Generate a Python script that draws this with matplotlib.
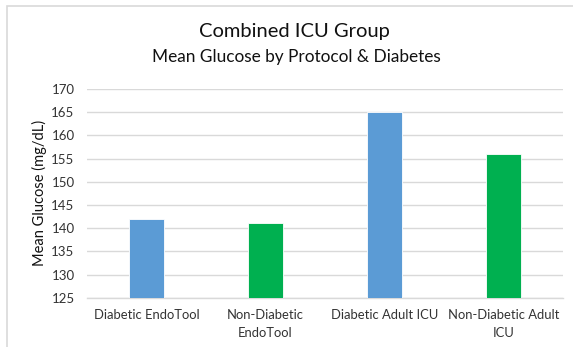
import matplotlib
matplotlib.use("Agg")
import matplotlib.pyplot as plt
from matplotlib.patches import Rectangle

plt.rcParams['font.family'] = ['Lato', 'DejaVu Sans']

categories = ["Diabetic EndoTool", "Non-Diabetic\nEndoTool",
              "Diabetic Adult ICU", "Non-Diabetic Adult\nICU"]
mean_glucose = [142, 141, 165, 156]
bar_colors = ["#5B9BD5", "#00B050", "#5B9BD5", "#00B050"]
y_ticks = [125, 130, 135, 140, 145, 150, 155, 160, 165, 170]

W, H = 573, 347
fig = plt.figure(figsize=(W / 100, H / 100), dpi=100)
fig.patch.set_facecolor("white")

# chart-area frame
fig.patches.append(Rectangle((7 / W, -0.1), 1.2, 1 - 6 / H + 0.1,
                             transform=fig.transFigure, fill=False,
                             edgecolor="#D9D9D9", linewidth=1.2))

ax = fig.add_axes([87 / W, 1 - 297.7 / H, (563 - 87) / W, (297.7 - 89) / H])
x = range(len(categories))
ax.bar(x, [v - y_ticks[0] for v in mean_glucose], bottom=y_ticks[0],
       width=0.3, color=bar_colors, edgecolor="white", linewidth=0.6,
       zorder=3)

ax.set_xlim(-0.5, len(categories) - 0.5)
ax.set_ylim(y_ticks[0], y_ticks[-1])
ax.set_yticks(y_ticks)
ax.set_xticks(list(x))
ax.set_xticklabels(categories, fontsize=9.4, color="#333333", linespacing=1.6)
ax.tick_params(axis="y", length=0, pad=9, labelsize=9.5, labelcolor="#333333")
ax.tick_params(axis="x", length=0, pad=8)
ax.grid(axis="y", color="#D9D9D9", linewidth=1.0, zorder=0)
for s in ("top", "right", "left"):
    ax.spines[s].set_visible(False)
ax.spines["bottom"].set_color("#D9D9D9")
ax.spines["bottom"].set_linewidth(1.0)

ax.set_ylabel("Mean Glucose (mg/dL)", fontsize=10.5, color="#111111",
              labelpad=3)

fig.text(294 / W, 1 - 32 / H, "Combined ICU Group", ha="center",
         va="center", fontsize=14.5, color="#111111")
fig.text(296 / W, 1 - 57 / H, "Mean Glucose by Protocol & Diabetes",
         ha="center", va="center", fontsize=12.4, color="#111111")

fig.savefig("out.png", dpi=100, facecolor="white")
